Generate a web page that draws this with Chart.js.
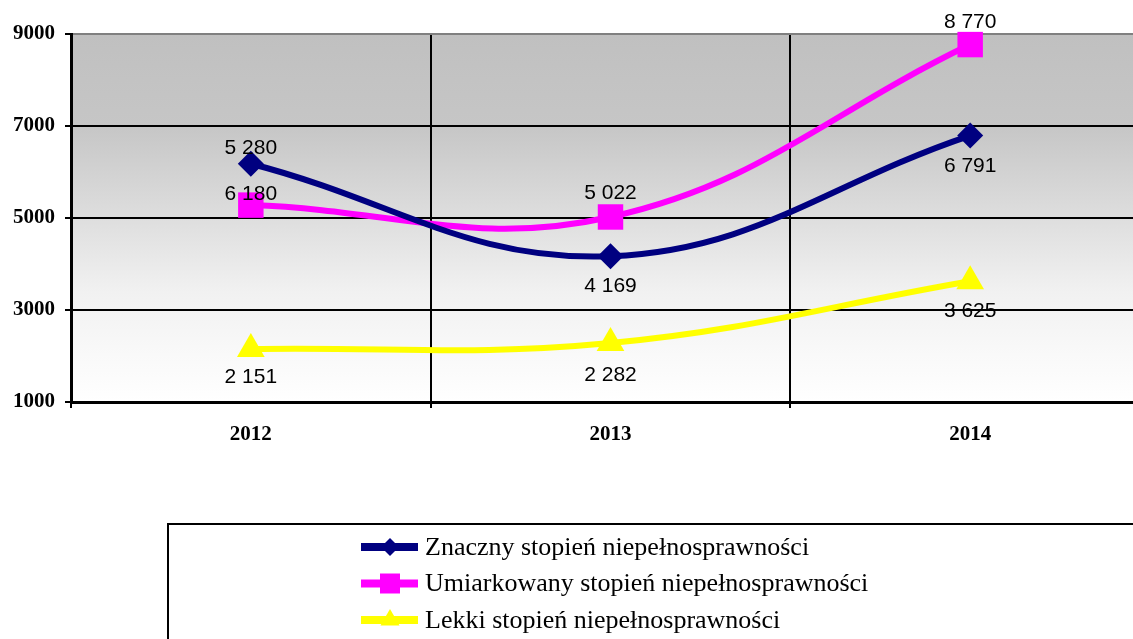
<!DOCTYPE html>
<html>
<head>
<meta charset="utf-8">
<script src="https://cdn.jsdelivr.net/npm/chart.js@4/dist/chart.umd.min.js"></script>
<style>
    body { margin: 0; overflow: hidden; background: #fff; }
    #wrap { width: 1168px; height: 639px; position: relative; }
</style>
</head>
<body>
<div id="wrap"><canvas id="chart"></canvas></div>
<script>
// Data
const years = ['2012', '2013', '2014'];
const znaczny = [6180, 4169, 6791];
const umiarkowany = [5280, 5022, 8770];
const lekki = [2151, 2282, 3625];

// Labels as printed on the original chart
const znacznyLabels = ['5 280', '4 169', '6 791'];
const umiarkowanyLabels = ['6 180', '5 022', '8 770'];
const lekkiLabels = ['2 151', '2 282', '3 625'];

const seriesNames = [
    'Znaczny stopień niepełnosprawności',
    'Umiarkowany stopień niepełnosprawności',
    'Lekki stopień niepełnosprawności'
];

const yTicks = [1000, 3000, 5000, 7000, 9000];

// plot area background gradient
const plotBackground = {
    id: 'plotBackground',
    beforeDraw(chart) {
        const { ctx, chartArea: a } = chart;
        const g = ctx.createLinearGradient(0, a.top, 0, a.bottom);
        g.addColorStop(0, '#c0c0c0');
        g.addColorStop(0.25, '#c6c6c6');
        g.addColorStop(0.7, '#f1f1f1');
        g.addColorStop(1, '#ffffff');
        ctx.save();
        ctx.fillStyle = g;
        ctx.fillRect(a.left, a.top, a.right - a.left, a.bottom - a.top);
        ctx.restore();
    }
};

// value labels next to points
const valueLabels = {
    id: 'valueLabels',
    afterDatasetsDraw(chart, args, opts) {
        const ctx = chart.ctx;
        ctx.save();
        ctx.font = '21px "Liberation Sans", Arial, sans-serif';
        ctx.fillStyle = '#000';
        ctx.textAlign = 'center';
        ctx.textBaseline = 'middle';
        chart.data.datasets.forEach((ds, i) => {
            chart.getDatasetMeta(i).data.forEach((pt, j) => {
                ctx.fillText(ds.valueLabels[j], pt.x, pt.y + opts.offsets[i][j]);
            });
        });
        ctx.restore();
    }
};

function marker(ctx, style, x, y, r) {
    ctx.beginPath();
    if (style === 'rectRot') {
        ctx.moveTo(x, y - r); ctx.lineTo(x + r, y); ctx.lineTo(x, y + r); ctx.lineTo(x - r, y);
    } else if (style === 'rect') {
        ctx.rect(x - r, y - r, 2 * r, 2 * r);
    } else {
        ctx.moveTo(x, y - r); ctx.lineTo(x + r * 0.87, y + r * 0.5); ctx.lineTo(x - r * 0.87, y + r * 0.5);
    }
    ctx.closePath();
    ctx.fill();
}

// boxed legend under the chart
const boxLegend = {
    id: 'boxLegend',
    afterDraw(chart) {
        const ctx = chart.ctx;
        ctx.save();
        ctx.strokeStyle = '#000';
        ctx.lineWidth = 2;
        ctx.strokeRect(168, 524, 1100, 200);
        const sizes = [9, 10, 11];
        chart.data.datasets.forEach((ds, i) => {
            const y = 547 + i * 36.5;
            ctx.strokeStyle = ds.borderColor;
            ctx.fillStyle = ds.borderColor;
            ctx.lineWidth = 8;
            ctx.beginPath();
            ctx.moveTo(361, y);
            ctx.lineTo(418, y);
            ctx.stroke();
            marker(ctx, ds.pointStyle, 390, y, sizes[i]);
            ctx.fillStyle = '#000';
            ctx.font = '26px "Liberation Serif", "Times New Roman", serif';
            ctx.textBaseline = 'middle';
            ctx.fillText(ds.label, 425, y + 1);
        });
        ctx.restore();
    }
};

new Chart(document.getElementById('chart'), {
    type: 'line',
    data: {
        labels: years,
        datasets: [{
            label: seriesNames[0],
            data: znaczny,
            valueLabels: znacznyLabels,
            borderColor: '#000080',
            backgroundColor: '#000080',
            pointStyle: 'rectRot',
            pointRadius: 13
        }, {
            label: seriesNames[1],
            data: umiarkowany,
            valueLabels: umiarkowanyLabels,
            borderColor: '#ff00ff',
            backgroundColor: '#ff00ff',
            pointStyle: 'rect',
            pointRadius: 18
        }, {
            label: seriesNames[2],
            data: lekki,
            valueLabels: lekkiLabels,
            borderColor: '#ffff00',
            backgroundColor: '#ffff00',
            pointStyle: 'triangle',
            pointRadius: 16
        }].map(ds => Object.assign(ds, {
            borderWidth: 6,
            tension: 0.4,
            pointBorderWidth: 0,
            clip: false
        }))
    },
    options: {
        responsive: true,
        maintainAspectRatio: false,
        animation: false,
        layout: { padding: { top: 34, right: 11, left: 0, bottom: 0 } },
        scales: {
            x: {
                offset: true,
                grid: {
                    offset: true,
                    color: '#000',
                    lineWidth: 2,
                    tickLength: 6,
                    tickColor: '#000',
                    tickWidth: 2
                },
                border: { color: '#000', width: 3 },
                ticks: {
                    color: '#000',
                    padding: 14,
                    font: { family: '"Liberation Serif", "Times New Roman", serif', size: 21, weight: 'bold' }
                },
                afterFit: scale => { scale.height = 237; }
            },
            y: {
                min: 1000,
                max: 9000,
                afterBuildTicks: scale => { scale.ticks = yTicks.map(v => ({ value: v })); },
                grid: {
                    color: ctx => (ctx.tick && ctx.tick.value === 9000) ? '#808080' : '#000',
                    lineWidth: 2,
                    tickLength: 6,
                    tickColor: '#000',
                    tickWidth: 2
                },
                border: { color: '#000', width: 3 },
                ticks: {
                    color: '#000',
                    padding: 10,
                    callback: v => String(v),
                    font: { family: '"Liberation Serif", "Times New Roman", serif', size: 21, weight: 'bold' }
                },
                afterFit: scale => { scale.width = 71; }
            }
        },
        plugins: {
            legend: { display: false },
            tooltip: { enabled: false },
            valueLabels: {
                offsets: [[-16, 30, 31], [-11, -24, -22], [28, 32, 30]]
            }
        }
    },
    plugins: [plotBackground, valueLabels, boxLegend]
});
</script>
</body>
</html>
